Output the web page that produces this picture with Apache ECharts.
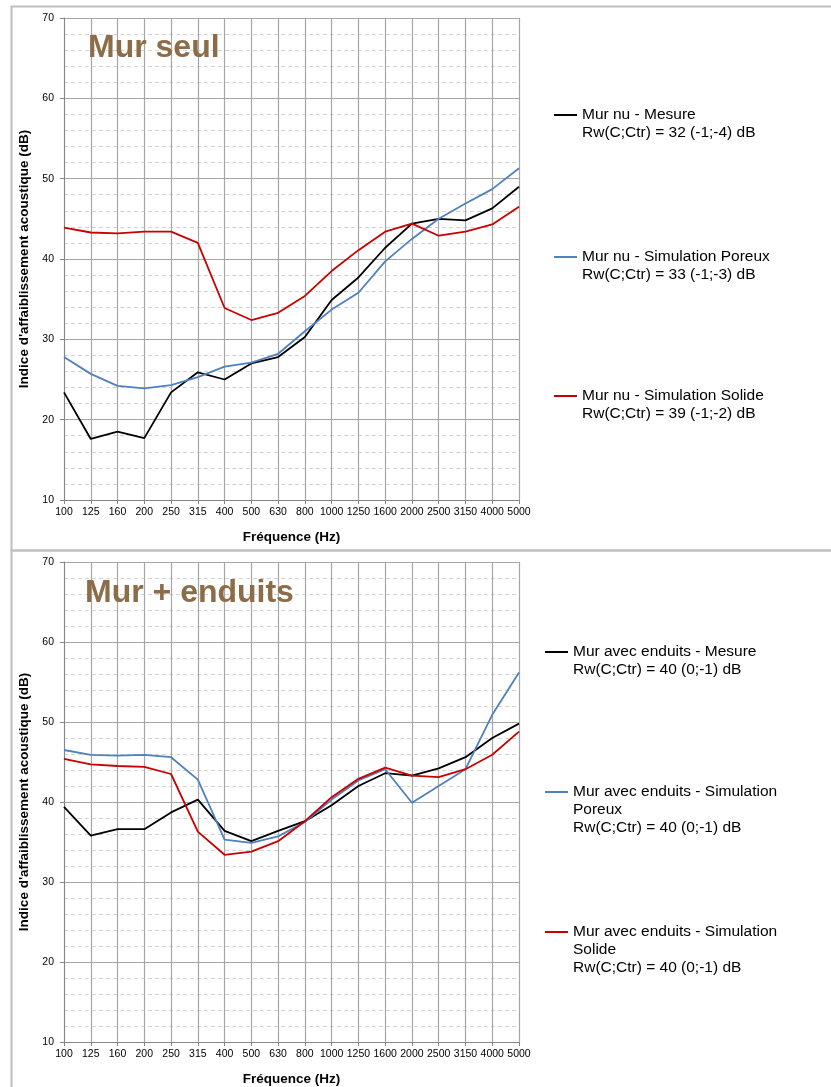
<!DOCTYPE html>
<html lang="fr">
<head>
    <meta charset="UTF-8">
    <title>Indice d'affaiblissement acoustique</title>
    <script src="https://cdn.jsdelivr.net/npm/echarts@6/dist/echarts.min.js"></script>
    <style>
        html, body { margin: 0; padding: 0; background: #fff; }
    </style>
</head>
<body>
    <div id="main" style="width: 831px;height:1087px;"></div>
    <script type="text/javascript">

        // bandes de tiers d'octave (Hz)
        var frequences = ['100','125','160','200','250','315','400','500','630','800','1000','1250','1600','2000','2500','3150','4000','5000'];

        // Mur seul
        var seulMesure  = [23.4, 17.6, 18.5, 17.7, 23.4, 25.9, 25.0, 27.0, 27.8, 30.3, 34.9, 37.7, 41.4, 44.4, 45.0, 44.8, 46.3, 49.0];
        var seulPoreux  = [27.8, 25.7, 24.2, 23.9, 24.3, 25.3, 26.6, 27.1, 28.2, 31.0, 33.7, 35.8, 39.7, 42.5, 45.0, 46.9, 48.7, 51.3];
        var seulSolide  = [43.9, 43.3, 43.2, 43.4, 43.4, 42.0, 33.9, 32.4, 33.3, 35.4, 38.5, 41.1, 43.4, 44.4, 42.9, 43.4, 44.3, 46.5];

        // Mur + enduits
        var enduitMesure = [39.4, 35.8, 36.6, 36.6, 38.7, 40.3, 36.4, 35.1, 36.4, 37.6, 39.6, 42.0, 43.6, 43.3, 44.2, 45.6, 48.0, 49.8];
        var enduitPoreux = [46.5, 45.9, 45.8, 45.9, 45.6, 42.8, 35.3, 34.9, 35.7, 37.5, 40.3, 42.7, 44.1, 39.9, 42.0, 44.1, 50.9, 56.2];
        var enduitSolide = [45.4, 44.7, 44.5, 44.4, 43.5, 36.3, 33.4, 33.8, 35.1, 37.6, 40.6, 42.9, 44.3, 43.3, 43.1, 44.1, 45.9, 48.8];

        // textes de légende (nom affiché + indice Rw)
        var legendeTexte = {
            'Mur nu - Mesure': '\nMur nu - Mesure\nRw(C;Ctr) = 32 (-1;-4) dB',
            'Mur nu - Simulation Poreux': '\nMur nu - Simulation Poreux\nRw(C;Ctr) = 33 (-1;-3) dB',
            'Mur nu - Simulation Solide': '\nMur nu - Simulation Solide\nRw(C;Ctr) = 39 (-1;-2) dB',
            'Mur avec enduits - Mesure': '\nMur avec enduits - Mesure\nRw(C;Ctr) = 40 (0;-1) dB',
            'Mur avec enduits - Simulation Poreux': '\n\nMur avec enduits - Simulation\nPoreux\nRw(C;Ctr) = 40 (0;-1) dB',
            'Mur avec enduits - Simulation Solide': '\n\nMur avec enduits - Simulation\nSolide\nRw(C;Ctr) = 40 (0;-1) dB'
        };

        var NOIR = '#000000', BLEU = '#4F81BD', ROUGE = '#C80000';
        var police = "'Liberation Sans', Arial, sans-serif";

        function xAxe(idx) {
            return {
                type: 'category',
                gridIndex: idx,
                boundaryGap: false,
                data: frequences,
                name: 'Fréquence (Hz)',
                nameLocation: 'middle',
                nameGap: 30,
                nameTextStyle: { fontFamily: police, fontWeight: 'bold', fontSize: 13.5, color: '#000' },
                axisLine: { lineStyle: { color: '#868686' } },
                axisTick: { show: true, length: 4, lineStyle: { color: '#868686' } },
                axisLabel: { interval: 0, margin: 7, fontFamily: police, fontSize: 10.5, color: '#000' },
                splitLine: { show: true, lineStyle: { color: '#A6A6A6', width: 1.2 } }
            };
        }

        function yAxe(idx) {
            return {
                type: 'value',
                gridIndex: idx,
                min: 10,
                max: 70,
                interval: 10,
                name: "Indice d'affaiblissement acoustique (dB)",
                nameLocation: 'middle',
                nameRotate: 90,
                nameGap: 30,
                nameTextStyle: { fontFamily: police, fontWeight: 'bold', fontSize: 13.5, color: '#000' },
                axisLine: { show: true, lineStyle: { color: '#868686' } },
                axisTick: { show: true, length: 4, lineStyle: { color: '#868686' } },
                axisLabel: { margin: 10, fontFamily: police, fontSize: 10.5, color: '#000' },
                splitLine: { show: true, lineStyle: { color: '#A6A6A6', width: 1.2 } },
                minorTick: { show: false, splitNumber: 5 },
                minorSplitLine: { show: true, lineStyle: { color: '#D4D4D4', type: [4, 3], width: 1 } }
            };
        }

        function serie(nom, data, couleur, idx) {
            return {
                name: nom,
                type: 'line',
                xAxisIndex: idx,
                yAxisIndex: idx,
                data: data,
                symbol: 'none',
                lineStyle: { color: couleur, width: 1.8 },
                itemStyle: { color: couleur },
                animation: false
            };
        }

        function legende(nom, gauche, haut) {
            return {
                data: [nom],
                left: gauche,
                top: haut,
                padding: 0,
                icon: 'rect',
                itemWidth: 23,
                itemHeight: 2,
                selectedMode: false,
                formatter: function (n) { return legendeTexte[n]; },
                textStyle: { fontFamily: police, fontSize: 15.5, lineHeight: 18, color: '#000' }
            };
        }

        var myChart = echarts.init(document.getElementById('main'));

        var option = {
            backgroundColor: '#fff',
            animation: false,
            title: [
                { text: 'Mur seul', left: 88, top: 32, padding: 0,
                  textStyle: { fontFamily: police, fontSize: 32, fontWeight: 'bold', color: '#8C6D47' } },
                { text: 'Mur + enduits', left: 85, top: 577, padding: 0,
                  textStyle: { fontFamily: police, fontSize: 32, fontWeight: 'bold', color: '#8C6D47' } }
            ],
            grid: [
                { left: 64, top: 18, width: 455, height: 482 },
                { left: 64, top: 562, width: 455, height: 481 }
            ],
            xAxis: [xAxe(0), xAxe(1)],
            yAxis: [yAxe(0), yAxe(1)],
            legend: [
                legende('Mur nu - Mesure', 554, 88),
                legende('Mur nu - Simulation Poreux', 554, 230),
                legende('Mur nu - Simulation Solide', 554, 369),
                legende('Mur avec enduits - Mesure', 545, 625),
                legende('Mur avec enduits - Simulation Poreux', 545, 747),
                legende('Mur avec enduits - Simulation Solide', 545, 887)
            ],
            // cadres gris autour des deux graphiques
            graphic: [
                { type: 'rect', left: 9, top: 4, shape: { width: 840, height: 544 },
                  style: { fill: 'none', stroke: '#BEBEBE', lineWidth: 2 }, silent: true },
                { type: 'rect', left: 9, top: 548, shape: { width: 840, height: 560 },
                  style: { fill: 'none', stroke: '#BEBEBE', lineWidth: 2 }, silent: true }
            ],
            series: [
                serie('Mur nu - Mesure', seulMesure, NOIR, 0),
                serie('Mur nu - Simulation Poreux', seulPoreux, BLEU, 0),
                serie('Mur nu - Simulation Solide', seulSolide, ROUGE, 0),
                serie('Mur avec enduits - Mesure', enduitMesure, NOIR, 1),
                serie('Mur avec enduits - Simulation Poreux', enduitPoreux, BLEU, 1),
                serie('Mur avec enduits - Simulation Solide', enduitSolide, ROUGE, 1)
            ]
        };

        myChart.setOption(option);

    </script>
</body>
</html>
